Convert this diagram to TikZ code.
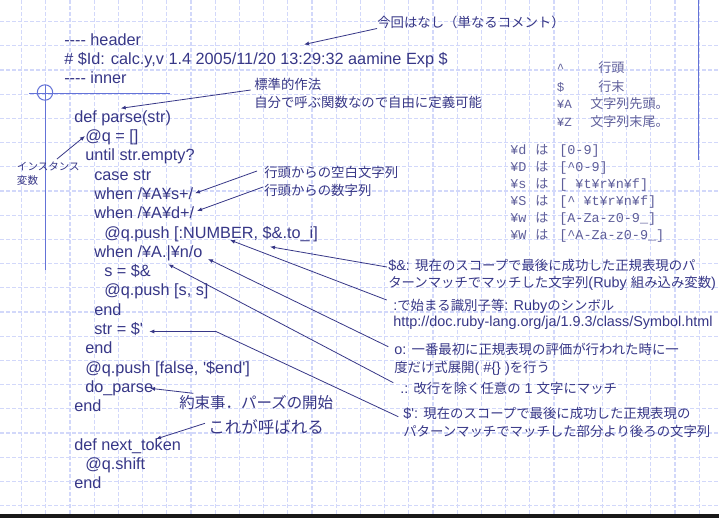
\documentclass[tikz,border=0pt]{standalone}
\usepackage{fontspec}
\setmainfont{Liberation Sans}
\newfontfamily\jp{Noto Sans CJK JP}[Scale=0.93]
\newfontfamily\jpf{Noto Sans CJK JP}
\newfontfamily\mono{Liberation Mono}
\usetikzlibrary{arrows.meta}
\definecolor{ink}{RGB}{55,55,135}
\definecolor{monoink}{RGB}{95,95,155}
\definecolor{gridc}{RGB}{210,216,250}
\definecolor{deco}{RGB}{100,115,215}
\newcommand\J[1]{{\jp #1}}
\begin{document}
\begin{tikzpicture}[x=0.75pt,y=-0.75pt,
  code/.style={anchor=base west,inner sep=0pt,text=ink,font=\fontsize{12.2}{14}\selectfont},
  note/.style={anchor=base west,inner sep=0pt,text=ink,font=\fontsize{10.8}{13}\selectfont},
  bignote/.style={anchor=base west,inner sep=0pt,text=ink},
  small/.style={anchor=base west,inner sep=0pt,text=ink,font=\jpf\fontsize{7.9}{9}\selectfont},
  mtxt/.style={anchor=base west,inner sep=0pt,text=monoink,font=\mono\fontsize{10.1}{12}\selectfont},
  mjp/.style={anchor=base west,inner sep=0pt,text=monoink,font=\jpf\fontsize{9.8}{12}\selectfont},
  ltxt/.style={anchor=base west,inner sep=0pt,text=monoink,font=\mono\fontsize{9.4}{12}\selectfont},
  ljp/.style={anchor=base west,inner sep=0pt,text=monoink,font=\jpf\fontsize{9.8}{12}\selectfont},
  ann/.style={draw=ink,line width=0.6pt,-{Latex[length=3.75pt,width=3pt]}},
  gridline/.style={draw=gridc,line width=1pt,dash pattern=on 3pt off 1.5pt},
  decoline/.style={draw=deco,line width=0.75pt}
]
\useasboundingbox (0,0) rectangle (719,518);
\fill[white] (0,0) rectangle (719,518);
% grid
\foreach \i in {0,...,28} \draw[gridline] (21.6+24.2*\i,0) -- (21.6+24.2*\i,514);
\foreach \j in {0,...,20} \draw[gridline] (0,21.6+24.2*\j) -- (719,21.6+24.2*\j);
% bottom band
\fill[black!90] (0,514) rectangle (719,518);
% decorations
\draw[decoline] (698,0) -- (698,160);
\draw[decoline] (29,93) -- (170,93);
\draw[decoline] (45,85) -- (45,270);
\draw[decoline] (45,92.5) circle[radius=5.78pt];
% code
\node[code] (c0) at (64,45) {-{}-{}-{}- header};
\node[code] (c1) at (64,64.3) {\# \$Id: calc.y,v 1.4 2005/11/20 13:29:32 aamine Exp \$};
\node[code] (c2) at (64,83.6) {-{}-{}-{}- inner};
\node[code] (c4) at (74,122.2) {def parse(str)};
\node[code] (c5) at (85,141.5) {@q = []};
\node[code] (c6) at (85,160.8) {until str.empty?};
\node[code] (c7) at (94,180.1) {case str};
\node[code] (c8) at (94,199.4) {when /¥A¥s+/};
\node[code] (c9) at (94,218.7) {when /¥A¥d+/};
\node[code] (c10) at (104,238) {@q.push [:NUMBER, \$\&.to\_i]};
\node[code] (c11) at (94,257.3) {when /¥A.\textbar¥n/o};
\node[code] (c12) at (104,276.6) {s = \$\&};
\node[code] (c13) at (104,295.9) {@q.push [s, s]};
\node[code] (c14) at (94,315.2) {end};
\node[code] (c15) at (94,334.5) {str = \$\textquotesingle};
\node[code] (c16) at (85,353.8) {end};
\node[code] (c17) at (85,373.1) {@q.push [false, \textquotesingle\$end\textquotesingle]};
\node[code] (c18) at (85,392.4) {do\_parse};
\node[code] (c19) at (74,411.7) {end};
\node[code] (c21) at (74,450.3) {def next\_token};
\node[code] (c22) at (85,469.6) {@q.shift};
\node[code] (c23) at (74,488.9) {end};
% notes
\node[note] (n1) at (377,27.7) {\J{今回はなし（単なるコメント）}};
\node[note] (n2a) at (254,89) {\J{標準的作法}};
\node[note] (n2b) at (254,107) {\J{自分で呼ぶ関数なので自由に定義可能}};
\node[small] (n3a) at (16.7,170) {インスタンス};
\node[small] (n3b) at (16.7,184.7) {変数};
\node[note] (n4a) at (264,177.5) {\J{行頭からの空白文字列}};
\node[note] (n4b) at (264,195.5) {\J{行頭からの数字列}};
\node[note] (n5a) at (388,270) {\$\&: \J{現在のスコープで最後に成功した正規表現のパ}};
\node[note] (n5b) at (388,287.5) {\J{ターンマッチでマッチした文字列}(Ruby \J{組み込み変数})};
\node[note] (n6a) at (393,310) {:\J{で始まる識別子等}: Ruby\J{のシンボル}};
\node[note] (n6b) at (393,326) {http://doc.ruby-lang.org/ja/1.9.3/class/Symbol.html};
\node[note] (n7a) at (394,354) {o: \J{一番最初に正規表現の評価が行われた時に一}};
\node[note] (n7b) at (394,372) {\J{度だけ式展開}( \#\{\} )\J{を行う}};
\node[note] (n8) at (400,393) {.: \J{改行を除く任意の} 1 \J{文字にマッチ}};
\node[note] (n9a) at (403,418) {\$\textquotesingle: \J{現在のスコープで最後に成功した正規表現の}};
\node[note] (n9b) at (403,436) {\J{パターンマッチでマッチした部分より後ろの文字列}};
\node[bignote,font=\jpf\fontsize{11.6}{14}\selectfont] (n10) at (179,408.6) {約束事．パーズの開始};
\node[bignote,font=\jpf\fontsize{12.4}{15}\selectfont] (n11) at (208,433.5) {これが呼ばれる};
% top-right list
\node[ltxt] (l1) at (556.7,72.8) {\textasciicircum};
\node[ljp] (l1j) at (598,72.8) {行頭};
\node[ltxt] (l2) at (556.7,91.2) {\$};
\node[ljp] (l2j) at (598,91.2) {行末};
\node[ltxt] (l3) at (556.7,108.8) {¥A};
\node[ljp] (l3j) at (590,108.8) {文字列先頭。};
\node[ltxt] (l4) at (556.7,126.2) {¥Z};
\node[ljp] (l4j) at (590,126.2) {文字列末尾。};
% regex table
\foreach \k/\a/\b in {0/¥d/[0-9],1/¥D/[\textasciicircum0-9],2/¥s/[ ¥t¥r¥n¥f],3/¥S/[\textasciicircum\ ¥t¥r¥n¥f],4/¥w/[A-Za-z0-9\_],5/¥W/[\textasciicircum A-Za-z0-9\_]}{
  \node[mtxt] (r\k a) at (510,154.5+17*\k) {\a};
  \node[mjp] (r\k b) at (535,154.5+17*\k) {は};
  \node[mtxt] (r\k c) at (559,154.5+17*\k) {\b};
}
% connector end points
\coordinate (s1) at (377,28.5);   \coordinate (t1) at (304,44.5);
\coordinate (s2) at (250.7,90);   \coordinate (t2) at (120.7,108.3);
\coordinate (s3) at (57,159);     \coordinate (t3) at (85,136);
\coordinate (s4) at (257,171);    \coordinate (t4) at (195,193.3);
\coordinate (s5) at (263,187);    \coordinate (t5) at (197,211);
\coordinate (s6) at (387,267);    \coordinate (t6) at (270,246.7);
\coordinate (s7) at (386.7,300);  \coordinate (t7) at (230,240);
\coordinate (s8) at (388.3,346.7);\coordinate (t8) at (208,259);
\coordinate (s9) at (393.3,382.7);\coordinate (t9) at (168.3,264.3);
\coordinate (s10) at (398.3,416.7);\coordinate (b10) at (216,331.5);\coordinate (t10) at (149.3,331.5);
\coordinate (s11) at (193.3,393.3);\coordinate (t11) at (150,388.3);
\coordinate (s12) at (205,423.3); \coordinate (t12) at (156,439);
\draw[ann] (s1) -- (t1);
\draw[ann] (s2) -- (t2);
\draw[ann] (s3) -- (t3);
\draw[ann] (s4) -- (t4);
\draw[ann] (s5) -- (t5);
\draw[ann] (s6) -- (t6);
\draw[ann] (s7) -- (t7);
\draw[ann] (s8) -- (t8);
\draw[ann] (s9) -- (t9);
\draw[ann] (s10) -- (b10) -- (t10);
\draw[ann] (s11) -- (t11);
\draw[ann] (s12) -- (t12);
\end{tikzpicture}
\end{document}
